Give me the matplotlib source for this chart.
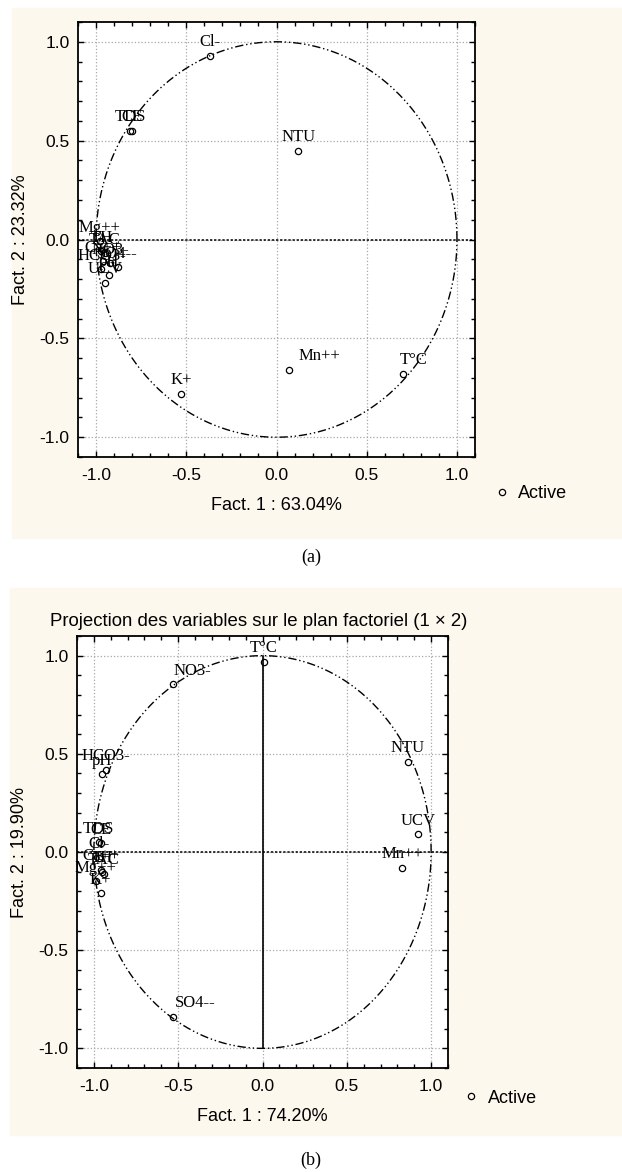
import numpy as np
import matplotlib.pyplot as plt
from matplotlib.patches import Rectangle
from matplotlib.ticker import MultipleLocator

# (a) variables / coordinates on factor plane 1 x 2
vars_a = ['Cl-', 'TDS', 'CE', 'NTU', 'Mg++', 'TH', 'TAC', 'Ca++', 'NO3-',
          'SO4--', 'HCO3-', 'pH', 'UCV', 'K+', 'Mn++', 'T°C']
x_a = [-0.37, -0.81, -0.80, 0.12, -0.98, -0.97, -0.95, -0.96, -0.92,
       -0.88, -0.97, -0.93, -0.95, -0.53, 0.07, 0.70]
y_a = [0.93, 0.55, 0.55, 0.45, -0.01, -0.06, -0.07, -0.11, -0.12,
       -0.14, -0.15, -0.18, -0.22, -0.78, -0.66, -0.68]

# (b)
vars_b = ['T°C', 'NO3-', 'HCO3-', 'pH', 'NTU', 'UCV', 'Mn++', 'TDS', 'CE',
          'Cl-', 'Ca++', 'TH', 'TAC', 'Mg++', 'K+', 'SO4--']
x_b = [0.01, -0.53, -0.93, -0.95, 0.86, 0.92, 0.83, -0.97, -0.96,
       -0.97, -0.96, -0.95, -0.94, -0.99, -0.96, -0.53]
y_b = [0.97, 0.855, 0.42, 0.395, 0.46, 0.09, -0.08, 0.05, 0.045,
       -0.03, -0.09, -0.10, -0.11, -0.15, -0.21, -0.84]

xlabel_a = 'Fact. 1 : 63.04%'
ylabel_a = 'Fact. 2 : 23.32%'
xlabel_b = 'Fact. 1 : 74.20%'
ylabel_b = 'Fact. 2 : 19.90%'
title_b = 'Projection des variables sur le plan factoriel (1 × 2)'

cream = '#fdf8ee'
sans = 'Liberation Sans'
serif = 'Liberation Serif'

fig = plt.figure(figsize=(6.22, 11.72), dpi=100)
H = 1172.0
W = 622.0

# cream panels behind each chart
fig.patches.append(Rectangle((12 / W, 1 - 538 / H), 1, 530 / H,
                             transform=fig.transFigure, color=cream, zorder=-5))
fig.patches.append(Rectangle((10 / W, 1 - 1135 / H), 1, 547 / H,
                             transform=fig.transFigure, color=cream, zorder=-5))


def draw_panel(ax, names, xs, ys, xlabel, ylabel, shifts, vline):
    ax.set_facecolor('white')
    ax.set_xlim(-1.1, 1.1)
    ax.set_ylim(-1.1, 1.1)
    ax.xaxis.set_major_locator(MultipleLocator(0.5))
    ax.yaxis.set_major_locator(MultipleLocator(0.5))
    ax.xaxis.set_minor_locator(MultipleLocator(0.1))
    ax.yaxis.set_minor_locator(MultipleLocator(0.1))
    ax.tick_params(which='both', direction='in', top=True, right=True,
                   labelsize=12.5, width=1)
    ax.tick_params(which='major', length=4)
    ax.tick_params(which='minor', length=3)
    for lab in ax.get_xticklabels() + ax.get_yticklabels():
        lab.set_family(sans)
    ax.xaxis.set_major_formatter(plt.FuncFormatter(lambda v, p: f'{v:.1f}'))
    ax.yaxis.set_major_formatter(plt.FuncFormatter(lambda v, p: f'{v:.1f}'))
    ax.tick_params(axis='x', pad=8)
    ax.tick_params(axis='y', pad=6)
    for s in ax.spines.values():
        s.set_linewidth(1.3)
    ax.grid(True, which='major', linestyle=':', color='#a8a8a8', linewidth=0.9)

    t = np.linspace(0, 2 * np.pi, 400)
    ax.plot(np.cos(t), np.sin(t), color='black', linewidth=1.0,
            linestyle=(0, (6, 2, 1, 2, 1, 2)), zorder=2)
    ax.axhline(0, color='black', linewidth=1.1, linestyle=(0, (1.5, 1.2)), zorder=2)
    if vline:
        ax.plot([0, 0], [-1, 1], color='black', linewidth=1.2, zorder=2)

    ax.plot(xs, ys, linestyle='none', marker='o', markersize=4.5,
            markerfacecolor='none', markeredgecolor='black',
            markeredgewidth=0.9, zorder=3, label='Active')
    for n, x, y in zip(names, xs, ys):
        dx = shifts.get(n, 0)
        ax.annotate(n, (x, y), xytext=(dx, 4), textcoords='offset points',
                    ha='center', va='bottom', fontsize=12, family=serif)

    ax.set_xlabel(xlabel, fontsize=13, family=sans, labelpad=10)
    ax.set_ylabel(ylabel, fontsize=13, family=sans, labelpad=8)


ax1 = fig.add_axes([78 / W, 1 - 457 / H, 397 / W, 435 / H])
draw_panel(ax1, vars_a, x_a, y_a, xlabel_a, ylabel_a,
           {'Mn++': 22, 'T°C': 8}, False)
ax1.legend(loc='center left', bbox_to_anchor=(1.0, -0.085), frameon=False,
           prop={'family': sans, 'size': 13}, handletextpad=0.3,
           handlelength=1.2)

ax2 = fig.add_axes([77 / W, 1 - 1068 / H, 371 / W, 432 / H])
draw_panel(ax2, vars_b, x_b, y_b, xlabel_b, ylabel_b,
           {'SO4--': 16, 'NO3-': 14}, True)
ax2.legend(loc='center left', bbox_to_anchor=(0.99, -0.07), frameon=False,
           prop={'family': sans, 'size': 13}, handletextpad=0.3,
           handlelength=1.2)

fig.text(259 / W, 1 - 622 / H, title_b, ha='center', va='center',
         fontsize=13.4, family=sans)

fig.text(311 / W, 1 - 557 / H, '(a)', ha='center', va='center',
         fontsize=13, family=serif)
fig.text(311 / W, 1 - 1160 / H, '(b)', ha='center', va='center',
         fontsize=13, family=serif)

fig.savefig('out.png', dpi=100)
